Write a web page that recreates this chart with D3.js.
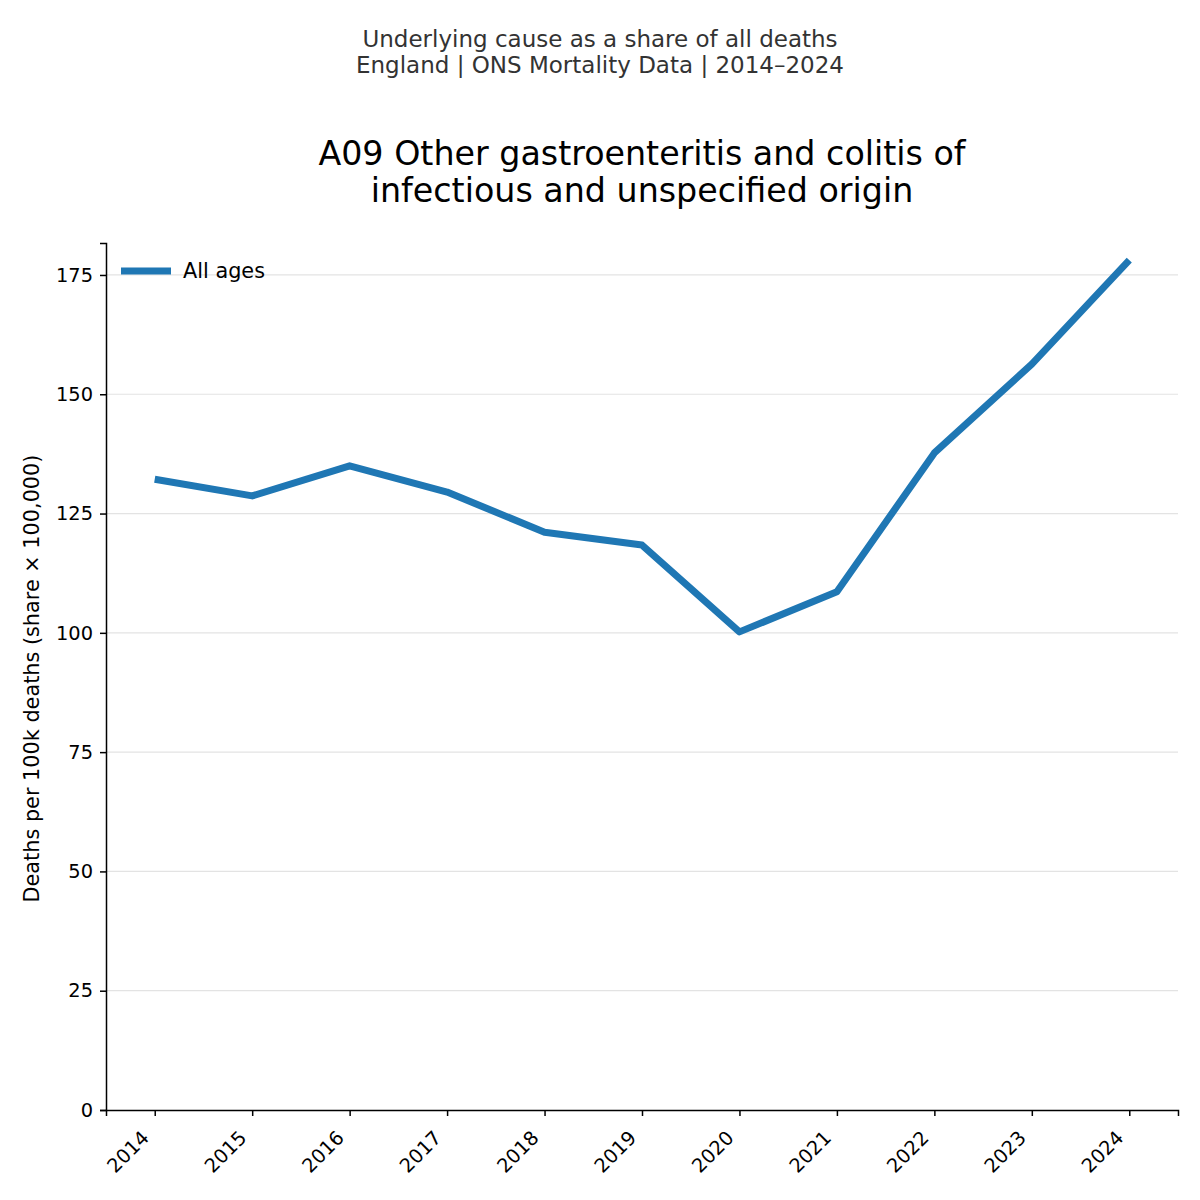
<!DOCTYPE html>
<html>
<head>
<meta charset="utf-8">
<script src="https://cdn.jsdelivr.net/npm/d3@7"></script>
<style>
  body { margin: 0; background: #fff; }
  svg, svg text { font-family: "DejaVu Sans", sans-serif; }
</style>
</head>
<body>
<svg id="chart" width="1200" height="1200"></svg>
<script>
const years = [2014, 2015, 2016, 2017, 2018, 2019, 2020, 2021, 2022, 2023, 2024];
const allAges = [132.2, 128.7, 135.0, 129.5, 121.1, 118.4, 100.2, 108.6, 137.7, 156.3, 178.1];
const yTicks = [0, 25, 50, 75, 100, 125, 150, 175];
const seriesName = 'All ages';

const FONT = '"DejaVu Sans", sans-serif';
const svg = d3.select('#chart');
const margin = { left: 106, right: 22, top: 243, bottom: 90 };
const width = 1200, height = 1200;

const x = d3.scaleLinear()
  .domain([2013.5, 2024.5])
  .range([margin.left, width - margin.right]);
const y = d3.scaleLinear()
  .domain([0, 181.7])
  .range([height - margin.bottom, margin.top]);

// titles
const sub = svg.append('text')
  .attr('text-anchor', 'middle')
  .attr('fill', '#333')
  .style('font-family', FONT)
  .style('font-size', '23px');
sub.append('tspan').attr('x', 600).attr('y', 47).text('Underlying cause as a share of all deaths');
sub.append('tspan').attr('x', 600).attr('y', 73).text('England | ONS Mortality Data | 2014–2024');

const title = svg.append('text')
  .attr('text-anchor', 'middle')
  .attr('fill', '#000')
  .style('font-family', FONT)
  .style('font-size', '33.3px');
title.append('tspan').attr('x', 642).attr('y', 165).text('A09 Other gastroenteritis and colitis of');
title.append('tspan').attr('x', 642).attr('y', 202).text('infectious and unspecified origin');

// grid
svg.append('g')
  .selectAll('line')
  .data(yTicks.filter(d => d > 0))
  .join('line')
  .attr('x1', margin.left)
  .attr('x2', width - margin.right)
  .attr('y1', d => y(d))
  .attr('y2', d => y(d))
  .attr('stroke', '#e3e3e3')
  .attr('stroke-width', 1.2);

// axes
const xAxis = svg.append('g')
  .attr('transform', `translate(0,${height - margin.bottom})`)
  .call(d3.axisBottom(x).tickValues(years).tickFormat(d3.format('d')).tickSizeOuter(0).tickSize(6).tickPadding(6));
xAxis.attr('font-family', null).attr('font-size', null);
xAxis.select('.domain').attr('stroke', '#000').attr('stroke-width', 1.5);
xAxis.selectAll('.tick line').attr('stroke', '#000').attr('stroke-width', 1.5);
xAxis.selectAll('.tick text')
  .style('font-family', FONT)
  .style('font-size', '19.4px')
  .attr('fill', '#000')
  .attr('text-anchor', 'end')
  .attr('dy', null)
  .attr('y', 0)
  .attr('transform', 'translate(-5,29) rotate(-45)');

const yAxis = svg.append('g')
  .attr('transform', `translate(${margin.left},0)`)
  .call(d3.axisLeft(y).tickValues(yTicks).tickSizeOuter(0).tickSize(6).tickPadding(7));
yAxis.attr('font-family', null).attr('font-size', null);
yAxis.select('.domain').attr('stroke', '#000').attr('stroke-width', 1.5);
yAxis.selectAll('.tick line').attr('stroke', '#000').attr('stroke-width', 1.5);
yAxis.selectAll('.tick text')
  .style('font-family', FONT)
  .style('font-size', '19.4px')
  .attr('fill', '#000');

svg.append('text')
  .attr('transform', `translate(39,${(y(0) + y(181.7)) / 2 + 2}) rotate(-90)`)
  .attr('text-anchor', 'middle')
  .style('font-family', FONT)
  .style('font-size', '20.8px')
  .attr('fill', '#000')
  .text('Deaths per 100k deaths (share × 100,000)');

// line
const line = d3.line()
  .x((d, i) => x(years[i]))
  .y(d => y(d));
svg.append('path')
  .datum(allAges)
  .attr('d', line)
  .attr('fill', 'none')
  .attr('stroke', '#1f77b4')
  .attr('stroke-width', 7)
  .attr('stroke-linejoin', 'round');

// legend
const lg = svg.append('g').attr('transform', `translate(121,${y(175) - 4})`);
lg.append('line')
  .attr('x1', 0).attr('x2', 50)
  .attr('stroke', '#1f77b4')
  .attr('stroke-width', 7);
lg.append('text')
  .attr('x', 62).attr('y', 0)
  .attr('dy', '0.35em')
  .style('font-family', FONT)
  .style('font-size', '20.8px')
  .attr('fill', '#000')
  .text(seriesName);
</script>
</body>
</html>
